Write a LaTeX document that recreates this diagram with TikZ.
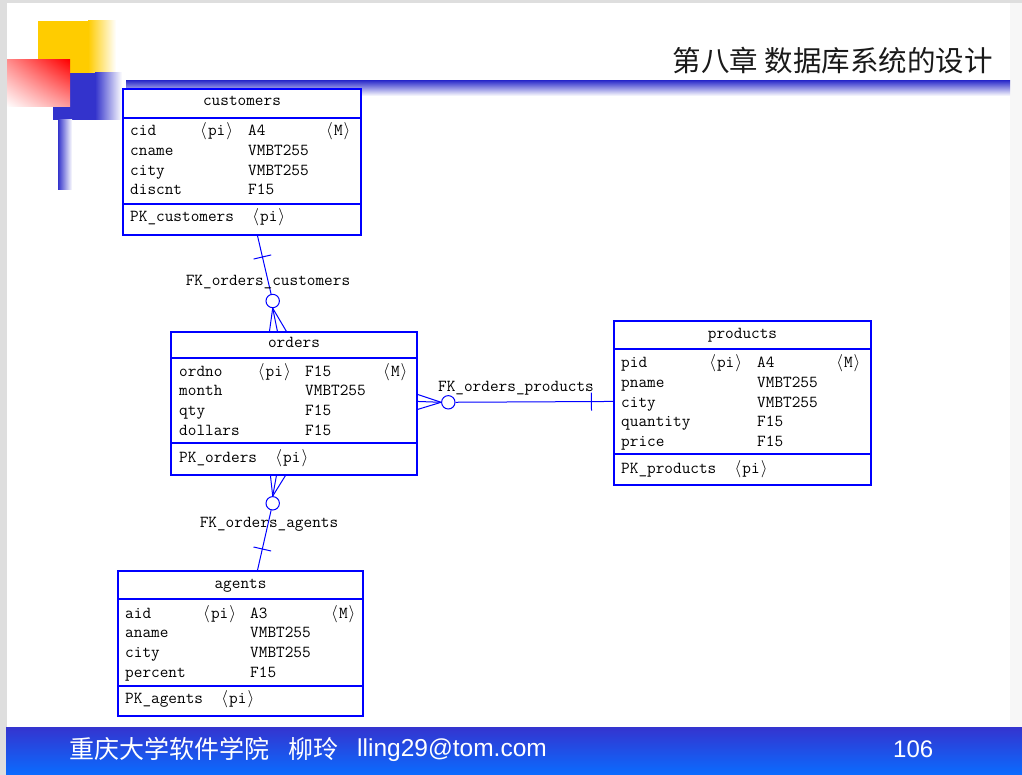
\documentclass[tikz,border=0pt]{standalone}
\usepackage{fontspec}
\setmonofont{Latin Modern Mono}
\newfontfamily\cjk{Noto Sans CJK SC}
\newfontfamily\arialfont{Liberation Sans}
\usetikzlibrary{calc,positioning,shadings}
\definecolor{erblue}{HTML}{0000FF}
\definecolor{slideblue}{HTML}{3333CC}
\definecolor{slideyellow}{HTML}{FFCC00}
\definecolor{bandtop}{HTML}{3434CF}
\definecolor{bandbot}{HTML}{0A6CFF}
\newcommand\erfont{\ttfamily\fontsize{16.8}{18}\selectfont}
\newcommand\erpi{\makebox[8.8pt]{$\langle$}pi\makebox[8.8pt]{$\rangle$}}
\newcommand\erM{\makebox[8.8pt]{$\langle$}M\makebox[8.8pt]{$\rangle$}}
\tikzset{
  tbl/.style={draw=erblue, line width=1.1pt, fill=white, inner sep=0pt},
  tblline/.style={draw=erblue, line width=1.1pt},
  rel/.style={draw=erblue, line width=1pt},
  ring/.style={circle, draw=erblue, line width=1pt, fill=white, minimum size=13.4pt, inner sep=0pt},
  fld/.style={anchor=base west, inner sep=0pt, font=\erfont},
  ttl/.style={anchor=base, inner sep=0pt, font=\erfont}
}

\begin{document}
\begin{tikzpicture}[x=1pt,y=-1pt]
  \useasboundingbox (0,0) rectangle (1022,775);
  \fill[black!13] (0,0) rectangle (1022,775);
  \fill[black!3] (1010,3) rectangle (1022,727);
  \fill[white] (7,3) rectangle (1010,727);
  \shade[top color=bandtop, bottom color=bandbot] (6,727) rectangle (1022,775);

  \fill[slideyellow] (38,21) rectangle (88,73);
  \shade[left color=slideyellow, right color=white] (88,21) rectangle (116,73);
  \fill[slideblue] (53,73) rectangle (95,120);
  \shade[left color=slideblue, right color=white] (95,73) rectangle (122,120);
  \shade[left color=slideblue, right color=white] (58,120) rectangle (72,190);
  \shade[upper left=red!45, upper right=red, lower left=white, lower right=red!38]
    (7,60) rectangle (70,107);
  \shade[top color=slideblue, bottom color=white] (126,81) rectangle (1010,96);
  \node[anchor=base east, inner sep=0pt, font=\cjk\fontsize{28.5}{32}\selectfont,
    text=black!90] (title) at (993,72) {第八章 数据库系统的设计};

  \node[tbl, minimum width=238, minimum height=146] (customers) at (242,162) {};
  \draw[tblline] (customers.west |- 0,118) -- (customers.east |- 0,118);
  \draw[tblline] (customers.west |- 0,204) -- (customers.east |- 0,204);
  \node[ttl] (customers-t) at (242,106) {customers};
  \foreach \y/\f/\t in {136/cid/A4, 156/cname/VMBT255, 176/city/VMBT255, 195/discnt/F15}{
    \node[fld] (customers-\f) at (130,\y) {\f};
    \node[fld] (customers-\f-t) at (248,\y) {\t};
  }
  \node[fld] (customers-pi) at (199,136) {\erpi};
  \node[fld] (customers-m) at (325,136) {\erM};
  \node[fld] (customers-pk) at (130,222) {PK\_customers\ \ \erpi};

  \node[tbl, minimum width=246, minimum height=143] (orders) at (294,403.5) {};
  \draw[tblline] (orders.west |- 0,358) -- (orders.east |- 0,358);
  \draw[tblline] (orders.west |- 0,443) -- (orders.east |- 0,443);
  \node[ttl] (orders-t) at (294,347) {orders};
  \foreach \y/\f/\t in {376/ordno/F15, 395/month/VMBT255, 415/qty/F15, 435/dollars/F15}{
    \node[fld] (orders-\f) at (179,\y) {\f};
    \node[fld] (orders-\f-t) at (305,\y) {\t};
  }
  \node[fld] (orders-pi) at (256.7,376) {\erpi};
  \node[fld] (orders-m) at (382,376) {\erM};
  \node[fld] (orders-pk) at (179,462) {PK\_orders\ \ \erpi};

  \node[tbl, minimum width=257, minimum height=164] (products) at (742.5,403) {};
  \draw[tblline] (products.west |- 0,349) -- (products.east |- 0,349);
  \draw[tblline] (products.west |- 0,454) -- (products.east |- 0,454);
  \node[ttl] (products-t) at (742.5,338) {products};
  \foreach \y/\f/\t in {367/pid/A4, 387/pname/VMBT255, 407/city/VMBT255, 426/quantity/F15, 446/price/F15}{
    \node[fld] (products-\f) at (621,\y) {\f};
    \node[fld] (products-\f-t) at (757,\y) {\t};
  }
  \node[fld] (products-pi) at (708,367) {\erpi};
  \node[fld] (products-m) at (835,367) {\erM};
  \node[fld] (products-pk) at (621,473) {PK\_products\ \ \erpi};

  \node[tbl, minimum width=245, minimum height=145] (agents) at (240.5,643.5) {};
  \draw[tblline] (agents.west |- 0,599) -- (agents.east |- 0,599);
  \draw[tblline] (agents.west |- 0,686) -- (agents.east |- 0,686);
  \node[ttl] (agents-t) at (240.5,588) {agents};
  \foreach \y/\f/\t in {618/aid/A3, 637/aname/VMBT255, 657/city/VMBT255, 677/percent/F15}{
    \node[fld] (agents-\f) at (125,\y) {\f};
    \node[fld] (agents-\f-t) at (250,\y) {\t};
  }
  \node[fld] (agents-pi) at (202,618) {\erpi};
  \node[fld] (agents-m) at (330,618) {\erM};
  \node[fld] (agents-pk) at (125,703) {PK\_agents\ \ \erpi};

  \node[ring] (c-cu) at (272.7,301) {};
  \coordinate (cu-foot) at ($(customers.south west)+(135,0)$);
  \draw[rel] (cu-foot) -- (c-cu);
  \draw[rel] ($(cu-foot)!22pt!(c-cu)!9pt!90:(c-cu)$) -- ($(cu-foot)!22pt!(c-cu)!9pt!-90:(c-cu)$);
  \foreach \dx in {99,107,116}
    \draw[rel] (c-cu.south) -- ($(orders.north west)+(\dx,0)$);
  \node[ttl] (fk-cu) at (268,286) {FK\_orders\_customers};

  \node[ring] (c-pr) at (448.3,402.3) {};
  \coordinate (pr-foot) at ($(products.north west)+(0,81)$);
  \draw[rel] (pr-foot) -- (c-pr);
  \draw[rel] ($(pr-foot)!22pt!(c-pr)!9pt!90:(c-pr)$) -- ($(pr-foot)!22pt!(c-pr)!9pt!-90:(c-pr)$);
  \foreach \dy in {63,70,78}
    \draw[rel] (c-pr.west) -- ($(orders.north east)+(0,\dy)$);
  \node[ttl] (fk-pr) at (516,391) {FK\_orders\_products};

  \node[ring] (c-ag) at (272.7,503.3) {};
  \coordinate (ag-foot) at ($(agents.north west)+(140,0)$);
  \draw[rel] (ag-foot) -- (c-ag);
  \draw[rel] ($(ag-foot)!22pt!(c-ag)!9pt!90:(c-ag)$) -- ($(ag-foot)!22pt!(c-ag)!9pt!-90:(c-ag)$);
  \foreach \dx in {100,106,115}
    \draw[rel] (c-ag.north) -- ($(orders.south west)+(\dx,0)$);
  \node[ttl] (fk-ag) at (269,527) {FK\_orders\_agents};

  \node[anchor=base west, inner sep=0pt, text=white, font=\cjk\fontsize{25}{28}\selectfont]
    (school) at (69,758) {重庆大学软件学院};
  \node[anchor=base west, inner sep=0pt, text=white, font=\cjk\fontsize{25}{28}\selectfont]
    (author) at (288,758) {柳玲};
  \node[anchor=base west, inner sep=0pt, text=white, font=\arialfont\fontsize{24.5}{28}\selectfont]
    (mail) at (357,756) {lling29@tom.com};
  \node[anchor=base west, inner sep=0pt, text=white, font=\arialfont\fontsize{24}{28}\selectfont]
    (page) at (893,757) {106};
\end{tikzpicture}
\end{document}
